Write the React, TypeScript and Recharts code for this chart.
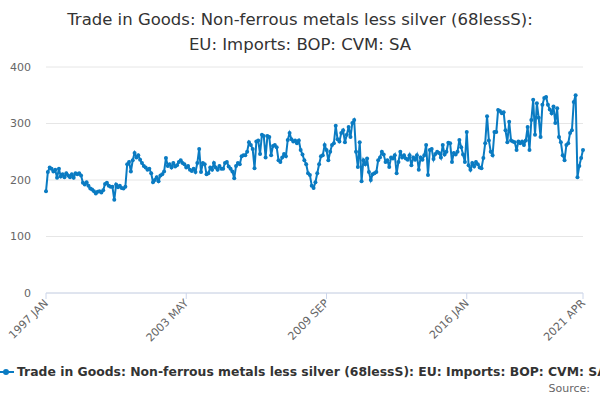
import { CartesianGrid, Line, LineChart, XAxis, YAxis } from "recharts";

const MONTHS = ["JAN", "FEB", "MAR", "APR", "MAY", "JUN", "JUL", "AUG", "SEP", "OCT", "NOV", "DEC"];

// monthly values, one array per year
const y1997 = [180, 214, 222, 220, 215, 218, 204, 220, 206, 210, 205, 212];
const y1998 = [208, 205, 210, 204, 212, 210, 212, 208, 195, 192, 196, 190];
const y1999 = [185, 183, 180, 176, 179, 180, 178, 182, 193, 195, 190, 188];
const y2000 = [188, 165, 192, 187, 190, 186, 185, 188, 228, 232, 215, 235];
const y2001 = [248, 240, 244, 236, 230, 225, 222, 218, 220, 212, 196, 200];
const y2002 = [205, 198, 208, 210, 215, 239, 225, 228, 222, 230, 224, 226];
const y2003 = [232, 235, 230, 228, 222, 225, 218, 216, 220, 214, 230, 255];
const y2004 = [214, 230, 228, 210, 212, 222, 218, 230, 222, 218, 225, 220];
const y2005 = [220, 230, 232, 224, 220, 215, 203, 225, 230, 228, 242, 244];
const y2006 = [244, 250, 267, 262, 255, 221, 268, 270, 246, 280, 278, 240];
const y2007 = [278, 276, 244, 260, 262, 258, 235, 232, 240, 246, 242, 271];
const y2008 = [283, 272, 268, 270, 265, 270, 253, 245, 235, 228, 212, 209];
const y2009 = [190, 186, 196, 212, 228, 242, 244, 262, 253, 235, 250, 262];
const y2010 = [265, 296, 272, 268, 283, 288, 267, 280, 294, 276, 301, 306];
const y2011 = [250, 223, 267, 198, 235, 228, 238, 214, 200, 210, 212, 214];
const y2012 = [235, 240, 250, 245, 232, 235, 223, 240, 238, 244, 212, 232];
const y2013 = [250, 240, 244, 238, 236, 244, 226, 240, 236, 244, 218, 240];
const y2014 = [236, 244, 262, 209, 253, 255, 237, 246, 250, 248, 240, 262];
const y2015 = [245, 250, 266, 265, 232, 248, 245, 250, 271, 258, 245, 232];
const y2016 = [285, 226, 218, 230, 224, 232, 228, 222, 221, 239, 265, 313];
const y2017 = [270, 250, 244, 285, 285, 324, 322, 318, 320, 288, 267, 303];
const y2018 = [270, 268, 267, 253, 268, 265, 268, 262, 270, 294, 253, 306];
const y2019 = [342, 280, 336, 310, 276, 333, 345, 347, 333, 325, 318, 330];
const y2020 = [301, 327, 276, 267, 244, 235, 262, 265, 283, 288, 338, 350];
const y2021 = [205, 225, 239, 253];

const yearly = [
  y1997, y1998, y1999, y2000, y2001, y2002, y2003, y2004, y2005,
  y2006, y2007, y2008, y2009, y2010, y2011, y2012, y2013, y2014,
  y2015, y2016, y2017, y2018, y2019, y2020, y2021,
];

const xTickLabels = ["1997 JAN", "2003 MAY", "2009 SEP", "2016 JAN", "2021 APR"];
const yTicks = [0, 100, 200, 300, 400];

const SERIES = "Trade in Goods: Non-ferrous metals less silver (68lessS): EU: Imports: BOP: CVM: SA";
const BLUE = "#0a7bc2";
const FONT = "'DejaVu Sans', Verdana, sans-serif";

const labels: string[] = [];
const values: number[] = [];
yearly.forEach((arr, yi) => {
  arr.forEach((v, mi) => {
    labels.push(`${1997 + yi} ${MONTHS[mi]}`);
    values.push(v);
  });
});

const data = values.map((v, i) => ({ idx: i, label: labels[i], value: v }));
const tickIdx = xTickLabels.map((l) => labels.indexOf(l));

function XTick(props: any) {
  const { x, y, payload } = props;
  return (
    <g transform={`translate(${x},${y})`}>
      <text
        x={0}
        y={0}
        dy={4}
        textAnchor="end"
        transform="rotate(-45)"
        fill="#666666"
        fontSize={11}
        fontFamily={FONT}
      >
        {labels[payload.value]}
      </text>
    </g>
  );
}

export default function App() {
  return (
    <div
      style={{
        position: "absolute",
        left: 0,
        top: 0,
        width: 600,
        height: 400,
        background: "#ffffff",
        overflow: "hidden",
        fontFamily: FONT,
      }}
    >
      <div
        style={{
          position: "absolute",
          top: 7,
          left: 0,
          width: 600,
          textAlign: "center",
          fontSize: 16.5,
          lineHeight: "25px",
          color: "#333333",
        }}
      >
        Trade in Goods: Non-ferrous metals less silver (68lessS):
        <br />
        EU: Imports: BOP: CVM: SA
      </div>

      <LineChart
        width={600}
        height={400}
        data={data}
        margin={{ top: 67, right: 17, bottom: 47, left: 0 }}
      >
        <CartesianGrid vertical={false} stroke="#e6e6e6" />
        <XAxis
          dataKey="idx"
          type="number"
          domain={[0, values.length - 1]}
          ticks={tickIdx}
          interval={0}
          height={60}
          tick={<XTick />}
          tickSize={6}
          tickLine={{ stroke: "#ccd6eb" }}
          axisLine={{ stroke: "#ccd6eb" }}
        />
        <YAxis
          domain={[0, 400]}
          ticks={yTicks}
          width={46}
          axisLine={false}
          tickLine={false}
          tickMargin={9}
          tick={{ fill: "#666666", fontSize: 11, fontFamily: FONT }}
        />
        <Line
          type="linear"
          dataKey="value"
          stroke={BLUE}
          strokeWidth={2}
          dot={{ r: 2, fill: BLUE, stroke: BLUE, strokeWidth: 0 }}
          isAnimationActive={false}
        />
      </LineChart>

      <svg
        width={600}
        height={30}
        style={{ position: "absolute", left: 0, top: 360 }}
      >
        <line x1={-2} y1={12} x2={14} y2={12} stroke={BLUE} strokeWidth={2} />
        <circle cx={6} cy={12} r={3} fill={BLUE} />
        <text
          x={17}
          y={16}
          fontSize={12.4}
          fontWeight="bold"
          fill="#333333"
          fontFamily={FONT}
        >
          {SERIES}
        </text>
      </svg>

      <div
        style={{
          position: "absolute",
          right: 10,
          top: 382,
          fontSize: 11,
          color: "#666666",
        }}
      >
        Source:
      </div>
    </div>
  );
}
